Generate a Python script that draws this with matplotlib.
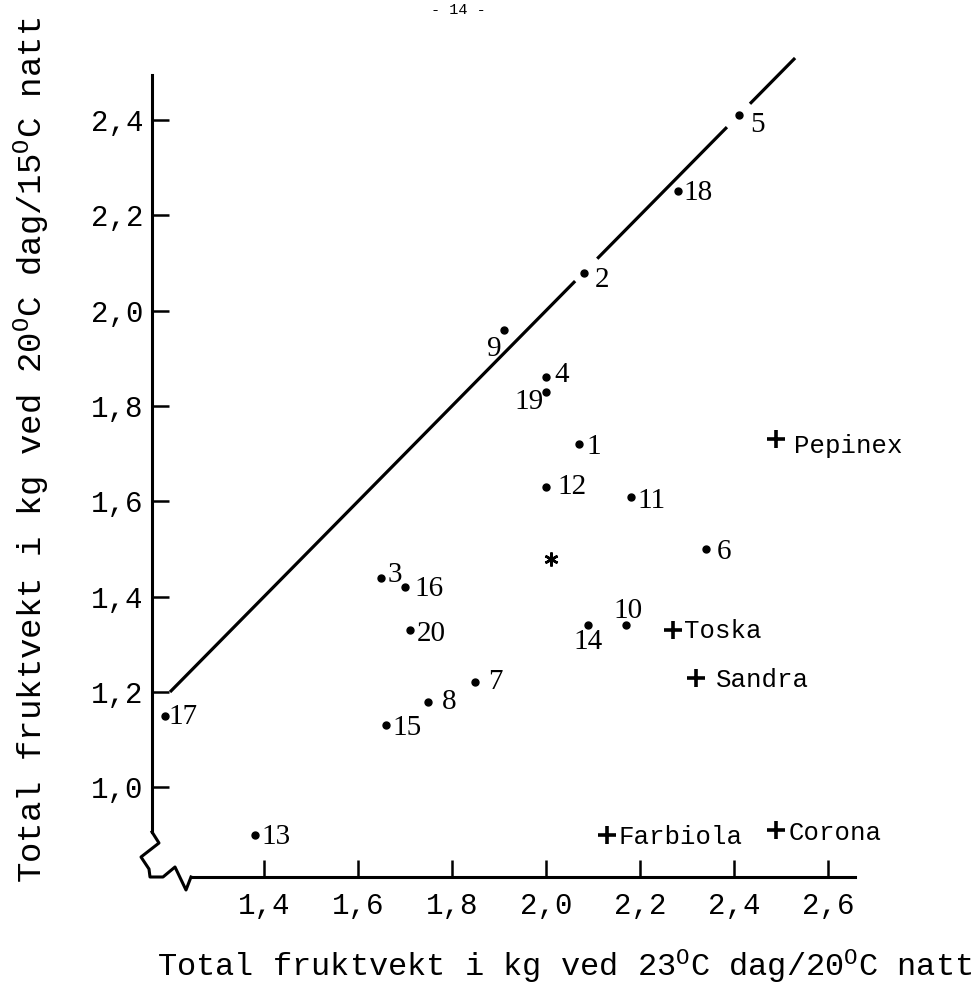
import matplotlib
matplotlib.use("Agg")
import matplotlib.pyplot as plt

plt.rcParams['font.family'] = 'Liberation Mono'
plt.rcParams['mathtext.fontset'] = 'custom'
plt.rcParams['mathtext.rm'] = 'Liberation Mono'
plt.rcParams['mathtext.it'] = 'Liberation Mono'

# numbered lines: x = 23/20 C, y = 20/15 C
numbers = [str(i) for i in range(1, 21)]
x23 = [2.07, 2.08, 1.65, 2.00, 2.41, 2.34, 1.85, 1.75, 1.91, 2.17,
       2.18, 2.00, 1.38, 2.09, 1.66, 1.70, 1.19, 2.28, 2.00, 1.71]
y20 = [1.72, 2.08, 1.44, 1.86, 2.41, 1.50, 1.22, 1.18, 1.96, 1.34,
       1.61, 1.63, 0.90, 1.34, 1.13, 1.42, 1.15, 2.25, 1.83, 1.33]

# named cultivars
sorter = ['Pepinex', 'Toska', 'Sandra', 'Farbiola', 'Corona']
sorter_x = [2.49, 2.27, 2.32, 2.13, 2.49]
sorter_y = [1.73, 1.33, 1.23, 0.90, 0.91]

# mean (asterisk)
mean_x = [2.01]
mean_y = [1.48]

xticks = [1.4, 1.6, 1.8, 2.0, 2.2, 2.4, 2.6]
yticks = [1.0, 1.2, 1.4, 1.6, 1.8, 2.0, 2.2, 2.4]

# 1:1 line with gaps where labels sit
diag = [1.2, 2.062, 2.109, 2.385, 2.434, 2.53]

# label offsets in pixels (dx, dy, ha)
num_off = {'1': (8, -3, 'left'), '2': (11, -7, 'left'), '3': (6, 3, 'left'),
           '4': (8, 2, 'left'), '5': (12, -10, 'left'), '6': (11, -3, 'left'),
           '7': (13, 0, 'left'), '8': (13, 0, 'left'), '9': (-2, -19, 'right'),
           '10': (2, 14, 'center'), '11': (7, -4, 'left'), '12': (11, 0, 'left'),
           '13': (7, -2, 'left'), '14': (0, -17, 'center'), '15': (6, -3, 'left'),
           '16': (9, -2, 'left'), '17': (3, -1, 'left'), '18': (6, -2, 'left'),
           '19': (-2, -10, 'right'), '20': (7, -4, 'left')}
sort_off = {'Pepinex': (18, -7), 'Toska': (11, -1), 'Sandra': (20, -2),
            'Farbiola': (11, -2), 'Corona': (12, -3)}

W, H = 976, 985
L, R, T, B = 152, 870, 50, 877
fig = plt.figure(figsize=(W / 100, H / 100), dpi=100)
ax = fig.add_axes([L / W, 1 - B / H, (R - L) / W, (B - T) / H])
ax.set_xlim(1.1617, 2.6894)
ax.set_ylim(0.8119, 2.5468)

for i in range(0, len(diag), 2):
    ax.plot([diag[i], diag[i + 1]], [diag[i], diag[i + 1]], color='black', lw=2.3,
            solid_capstyle='butt')

ax.plot(x23, y20, 'o', color='black', ms=5, ls='none')
for n, x, y in zip(numbers, x23, y20):
    dx, dy, ha = num_off[n]
    ax.annotate(n, (x, y), xytext=(dx, dy), textcoords='offset pixels',
                ha=ha, va='center', fontsize=21, family='Liberation Serif')

ax.plot(sorter_x, sorter_y, '+', color='black', ms=13, mew=2.6, ls='none')
for n, x, y in zip(sorter, sorter_x, sorter_y):
    dx, dy = sort_off[n]
    ax.annotate(n, (x, y), xytext=(dx, dy), textcoords='offset pixels',
                ha='left', va='center', fontsize=18.5)

ax.plot(mean_x, mean_y, marker=(6, 2, 0), color='black', ms=10, mew=1.8, ls='none')

ax.spines['top'].set_visible(False)
ax.spines['right'].set_visible(False)
ax.spines['left'].set_linewidth(2.2)
ax.spines['bottom'].set_linewidth(2.2)
ax.spines['left'].set_bounds(0.906, 2.494)
ax.spines['bottom'].set_bounds(1.244, 2.657)

ax.set_xticks(xticks)
ax.set_yticks(yticks)
ax.set_xticklabels([f"{v:.1f}".replace('.', ',') for v in xticks])
ax.set_yticklabels([f"{v:.1f}".replace('.', ',') for v in yticks])
ax.tick_params(axis='both', direction='in', length=12, width=1.8, labelsize=21)
ax.tick_params(axis='x', pad=11)
ax.tick_params(axis='y', pad=6)

# axis break zigzag at the corner (pixel positions -> axes fraction)
zig = [(152, 832), (159, 843), (141, 857), (149, 869), (150, 877), (163, 877),
       (175, 867), (186, 890), (191, 877)]
ax.plot([(p[0] - L) / (R - L) for p in zig], [(B - p[1]) / (B - T) for p in zig],
        transform=ax.transAxes, color='black', lw=2.2, clip_on=False)

fig.text(565 / W, 1 - 977 / H,
         r"Total fruktvekt i kg ved 23$^{\rm O}$C dag/20$^{\rm O}$C natt",
         ha='center', va='baseline', fontsize=23)
fig.text(32 / W, 1 - 450 / H,
         r"Total fruktvekt i kg ved 20$^{\rm O}$C dag/15$^{\rm O}$C natt",
         ha='center', va='center', rotation=90, fontsize=24.5)
fig.text(458 / W, 1 - 3 / H, "- 14 -", ha='center', va='top', fontsize=11)

fig.savefig("out.png", dpi=100)
